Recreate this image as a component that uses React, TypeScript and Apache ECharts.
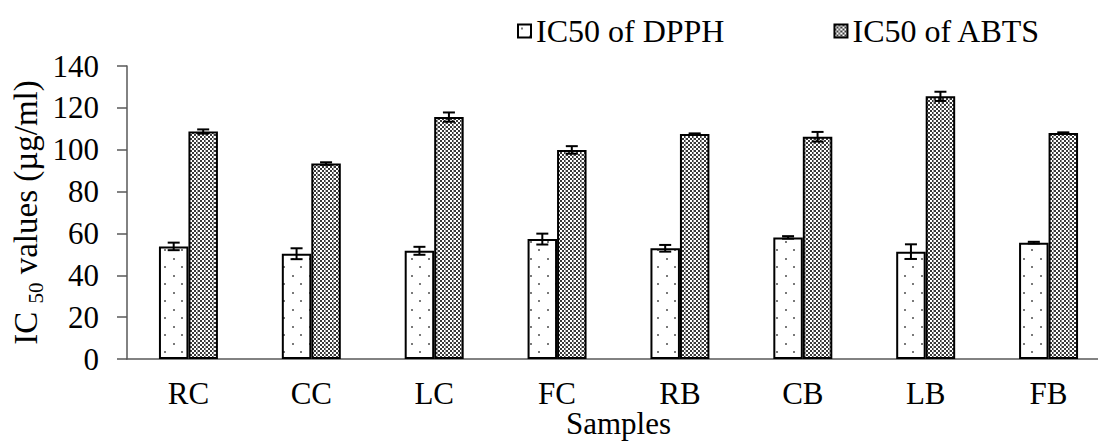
import React, { useEffect, useRef } from "react";
import * as echarts from "echarts";

const categories = ["RC", "CC", "LC", "FC", "RB", "CB", "LB", "FB"];
const dpph = [53.8, 50.3, 51.7, 57.3, 52.9, 58.1, 51.3, 55.6];
const dpphErr = [1.8, 2.6, 1.9, 2.6, 1.6, 0.6, 3.5, 0.4];
const abts = [108.7, 93.4, 115.6, 99.9, 107.5, 106.2, 125.5, 108.0];
const abtsErr = [1.0, 0.6, 2.2, 1.8, 0.3, 2.3, 2.2, 0.3];
const seriesNames = ["IC50 of DPPH", "IC50 of ABTS"];

const FONT = "Liberation Serif";

function makeDots() {
  const c = document.createElement("canvas");
  c.width = 17;
  c.height = 17;
  const g = c.getContext("2d")!;
  g.fillStyle = "#ffffff";
  g.fillRect(0, 0, 17, 17);
  g.fillStyle = "#7a7a7a";
  g.fillRect(3, 3, 2, 2);
  g.fillRect(11, 11, 2, 2);
  return c;
}

function makeChecker() {
  const c = document.createElement("canvas");
  c.width = 8;
  c.height = 8;
  const g = c.getContext("2d")!;
  g.fillStyle = "#ffffff";
  g.fillRect(0, 0, 8, 8);
  for (let i = 0; i < 4; i++) {
    for (let j = 0; j < 4; j++) {
      if ((i + j) % 2 === 0) {
        g.fillStyle = "#3a3a3a";
        g.fillRect(i * 2, j * 2, 2, 2);
      }
    }
  }
  g.fillStyle = "rgba(160,160,160,0.8)";
  g.fillRect(5, 0, 1, 8);
  return c;
}

export default function App() {
  const ref = useRef<HTMLDivElement>(null);
  useEffect(() => {
    if (!ref.current) return;
    const chart = echarts.init(ref.current, null, { renderer: "svg" });
    const dots = makeDots();
    const checker = makeChecker();
    const barRatio = 0.24;

    const errSeries = (vals: number[], errs: number[], side: number) => ({
      type: "custom",
      z: 10,
      silent: true,
      data: vals.map((v, i) => [i, v, errs[i]]),
      encode: { x: 0, y: 1 },
      renderItem: (params: any, api: any) => {
        const i = api.value(0);
        const v = api.value(1);
        const e = api.value(2);
        const band = api.size([1, 0])[0];
        const off = (band * barRatio * side) / 2;
        const top = api.coord([i, v + e]);
        const bot = api.coord([i, v - e]);
        const x = top[0] + off;
        const hw = 6;
        const st = { stroke: "#000", lineWidth: 2 };
        return {
          type: "group",
          children: [
            { type: "line", shape: { x1: x, y1: top[1], x2: x, y2: bot[1] }, style: st },
            { type: "line", shape: { x1: x - hw, y1: top[1], x2: x + hw, y2: top[1] }, style: st },
            { type: "line", shape: { x1: x - hw, y1: bot[1], x2: x + hw, y2: bot[1] }, style: st },
          ],
        };
      },
    });

    chart.setOption({
      animation: false,
      textStyle: { fontFamily: FONT },
      legend: {
        data: seriesNames,
        left: 512,
        top: 10,
        itemWidth: 13,
        itemHeight: 13,
        itemGap: 109,
        icon: "rect",
        textStyle: { fontFamily: FONT, fontSize: 32, color: "#000" },
      },
      grid: {
        left: 127,
        right: -12,
        top: 66,
        bottom: 82,
        containLabel: false,
        outerBoundsMode: "none",
      },
      xAxis: {
        type: "category",
        data: categories,
        name: "Samples",
        nameLocation: "middle",
        nameGap: 49,
        nameMoveOverlap: false,
        nameTextStyle: { fontFamily: FONT, fontSize: 31, lineHeight: 31, color: "#000" },
        axisLine: { lineStyle: { color: "#595959", width: 1.5 } },
        axisTick: { show: false },
        axisLabel: { fontFamily: FONT, fontSize: 31, color: "#000", margin: 19 },
      },
      yAxis: {
        type: "value",
        min: 0,
        max: 140,
        interval: 20,
        name: "{a|IC }{b|50}{a| values (µg/ml)}",
        nameLocation: "middle",
        nameGap: 85,
        nameMoveOverlap: false,
        nameTextStyle: {
          fontFamily: FONT,
          fontSize: 33,
          color: "#000",
          rich: {
            a: { fontFamily: FONT, fontSize: 33, color: "#000" },
            b: { fontFamily: FONT, fontSize: 21, color: "#000", verticalAlign: "bottom", padding: [0, 0, -4, 0] },
          },
        },
        axisLine: { show: true, lineStyle: { color: "#595959", width: 1.5 } },
        axisTick: { show: true, inside: false, length: 10, lineStyle: { color: "#595959", width: 1.5 } },
        axisLabel: { fontFamily: FONT, fontSize: 31, color: "#000", margin: 28 },
        splitLine: { show: false },
      },
      series: [
        {
          name: seriesNames[0],
          type: "bar",
          data: dpph,
          barWidth: "24%",
          barGap: "0%",
          itemStyle: {
            color: { image: dots, repeat: "repeat", imageWidth: 17, imageHeight: 17 },
            borderColor: "#000",
            borderWidth: 2,
          },
        },
        {
          name: seriesNames[1],
          type: "bar",
          data: abts,
          barWidth: "24%",
          barGap: "0%",
          itemStyle: {
            color: { image: checker, repeat: "repeat", imageWidth: 8, imageHeight: 8 },
            borderColor: "#000",
            borderWidth: 2,
          },
        },
        errSeries(dpph, dpphErr, -1),
        errSeries(abts, abtsErr, 1),
      ],
    } as any);
    return () => chart.dispose();
  }, []);
  return (
    <div
      ref={ref}
      style={{ position: "absolute", left: 0, top: 0, width: 1098, height: 441, background: "#fff" }}
    />
  );
}
